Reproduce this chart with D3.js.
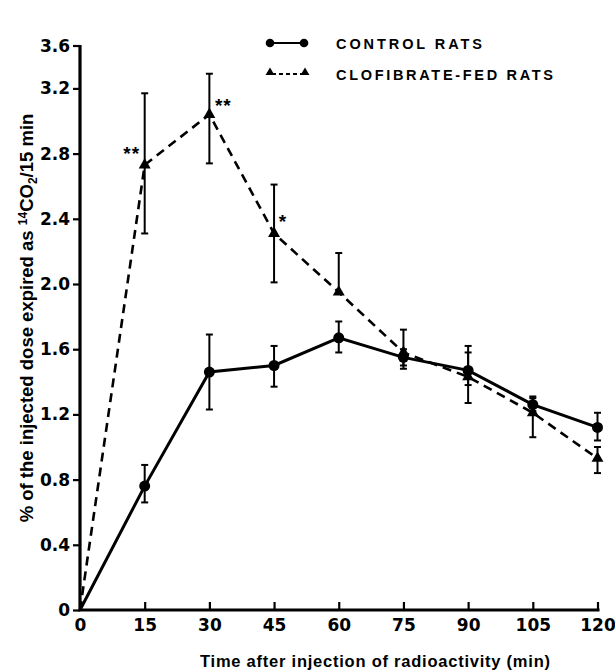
<!DOCTYPE html>
<html>
<head>
<meta charset="utf-8">
<script src="https://cdn.jsdelivr.net/npm/d3@7"></script>
<style>
  html, body { margin: 0; padding: 0; background: #fff; }
  svg { display: block; }
  text { font-family: "Liberation Sans", Arial, sans-serif; fill: #000; }
  .tk { font-family: "DejaVu Sans", sans-serif; }
</style>
</head>
<body>
<svg id="chart" width="615" height="671"></svg>
<script>
// ---- data ----
const times = [0, 15, 30, 45, 60, 75, 90, 105, 120];
const controlMean = [0, 0.76, 1.46, 1.50, 1.67, 1.55, 1.47, 1.26, 1.12];
const controlLow  = [null, 0.66, 1.23, 1.37, 1.58, 1.50, 1.38, 1.22, 1.04];
const controlHigh = [null, 0.89, 1.69, 1.62, 1.77, 1.60, 1.62, 1.31, 1.21];
const clofMean = [0, 2.73, 3.04, 2.31, 1.95, 1.58, 1.43, 1.21, 0.93];
const clofLow  = [null, 2.31, 2.74, 2.01, 1.95, 1.48, 1.27, 1.06, 0.84];
const clofHigh = [null, 3.17, 3.29, 2.61, 2.19, 1.72, 1.58, 1.30, 1.00];
const xTicks = [0, 15, 30, 45, 60, 75, 90, 105, 120];
const yTicks = [0, 0.4, 0.8, 1.2, 1.6, 2.0, 2.4, 2.8, 3.2];
const yTopLabel = "3.6";
const significance = [
  { t: 15, label: "**", dx: -13, dy: -15 },
  { t: 30, label: "**", dx: 14, dy: -12 },
  { t: 45, label: "*",  dx: 9,  dy: -15 }
];
const legendLabels = ["CONTROL RATS", "CLOFIBRATE-FED RATS"];
const xTitle = "Time after injection of radioactivity (min)";

// ---- scales ----
const svg = d3.select("#chart");
const x = d3.scaleLinear().domain([0, 120]).range([80, 597.5]);
const y = d3.scaleLinear().domain([0, 3.2]).range([610, 88.4]);
const yAxisTop = 45;

const control = times.map((t, i) => ({ t, v: controlMean[i], lo: controlLow[i], hi: controlHigh[i] }));
const clof = times.map((t, i) => ({ t, v: clofMean[i], lo: clofLow[i], hi: clofHigh[i] }));

// ---- axes ----
const xAxis = d3.axisBottom(x).tickValues(xTicks).tickSizeInner(-8).tickSizeOuter(0).tickPadding(9)
  .tickFormat(d3.format("d"));
const gx = svg.append("g").attr("transform", `translate(0,${y(0)})`).call(xAxis);
gx.select(".domain").remove();
gx.selectAll(".tick line").attr("stroke", "#000").attr("stroke-width", 2.2);
gx.selectAll(".tick text").attr("class", "tk").attr("font-size", 17).attr("font-weight", "bold");

const yAxis = d3.axisLeft(y).tickValues(yTicks).tickSizeInner(7).tickSizeOuter(0).tickPadding(3)
  .tickFormat(d => d === 0 ? "0" : d3.format(".1f")(d));
const gy = svg.append("g").attr("transform", `translate(${x(0)},0)`).call(yAxis);
gy.select(".domain").remove();
gy.selectAll(".tick line").attr("stroke", "#000").attr("stroke-width", 2.2);
gy.selectAll(".tick text").attr("class", "tk").attr("font-size", 17).attr("font-weight", "bold");
// top end tick of the y axis
gy.append("line").attr("x1", -7).attr("x2", 0).attr("y1", yAxisTop + 1).attr("y2", yAxisTop + 1)
  .attr("stroke", "#000").attr("stroke-width", 2.2);
gy.append("text").attr("class", "tk").attr("x", -10).attr("y", yAxisTop + 1).attr("dy", "0.36em")
  .attr("text-anchor", "end").attr("font-size", 17).attr("font-weight", "bold").text(yTopLabel);

// axis lines
svg.append("path")
  .attr("d", `M${x(0)},${yAxisTop}V${y(0)}H${x(120) + 2}`)
  .attr("fill", "none").attr("stroke", "#000").attr("stroke-width", 3.2);

// ---- series lines ----
const line = d3.line().x(d => x(d.t)).y(d => y(d.v));
svg.append("path").datum(clof).attr("d", line)
  .attr("fill", "none").attr("stroke", "#000").attr("stroke-width", 2.6)
  .attr("stroke-dasharray", "9,6");
svg.append("path").datum(control).attr("d", line)
  .attr("fill", "none").attr("stroke", "#000").attr("stroke-width", 3);

// ---- error bars ----
function errorBars(data) {
  const g = svg.append("g").attr("stroke", "#000").attr("stroke-width", 2);
  data.filter(d => d.lo !== null).forEach(d => {
    const cx = x(d.t);
    g.append("line").attr("x1", cx).attr("x2", cx).attr("y1", y(d.lo)).attr("y2", y(d.hi));
    g.append("line").attr("x1", cx - 3.5).attr("x2", cx + 3.5).attr("y1", y(d.hi)).attr("y2", y(d.hi));
    if (d.lo < d.v) {
      g.append("line").attr("x1", cx - 3.5).attr("x2", cx + 3.5).attr("y1", y(d.lo)).attr("y2", y(d.lo));
    }
  });
}
errorBars(control);
errorBars(clof);

// ---- markers ----
const tri = d3.symbol().type(d3.symbolTriangle).size(62);
svg.append("g").selectAll("path").data(clof.filter(d => d.t > 0)).join("path")
  .attr("d", tri).attr("transform", d => `translate(${x(d.t)},${y(d.v)})`).attr("fill", "#000");
svg.append("g").selectAll("circle").data(control.filter(d => d.t > 0)).join("circle")
  .attr("cx", d => x(d.t)).attr("cy", d => y(d.v)).attr("r", 5.5).attr("fill", "#000");

// ---- significance marks ----
svg.append("g").selectAll("text").data(significance).join("text")
  .attr("x", d => x(d.t) + d.dx)
  .attr("y", d => y(clofMean[times.indexOf(d.t)]) + d.dy + 10)
  .attr("text-anchor", "middle").attr("font-size", 19).attr("font-weight", "bold")
  .attr("letter-spacing", 1)
  .text(d => d.label);

// ---- legend ----
const lg = svg.append("g");
lg.append("line").attr("x1", 270).attr("x2", 304).attr("y1", 43).attr("y2", 43)
  .attr("stroke", "#000").attr("stroke-width", 2.2);
[270, 304].forEach(cx => lg.append("circle").attr("cx", cx).attr("cy", 43).attr("r", 4.3).attr("fill", "#000"));
lg.append("line").attr("x1", 272).attr("x2", 303).attr("y1", 74).attr("y2", 74)
  .attr("stroke", "#000").attr("stroke-width", 2).attr("stroke-dasharray", "4,3");
const triSmall = d3.symbol().type(d3.symbolTriangle).size(34);
[270, 305].forEach(cx => lg.append("path").attr("d", triSmall)
  .attr("transform", `translate(${cx},72.5)`).attr("fill", "#000"));
lg.append("text").attr("x", 336).attr("y", 49).attr("font-size", 14.5).attr("font-weight", "bold")
  .attr("textLength", 146).attr("lengthAdjust", "spacing").text(legendLabels[0]);
lg.append("text").attr("x", 336).attr("y", 80).attr("font-size", 14.5).attr("font-weight", "bold")
  .attr("textLength", 217).attr("lengthAdjust", "spacing").text(legendLabels[1]);

// ---- axis titles ----
svg.append("text").attr("x", 375).attr("y", 667).attr("text-anchor", "middle")
  .attr("font-size", 16.5).attr("font-weight", "bold")
  .attr("textLength", 350).attr("lengthAdjust", "spacing").text(xTitle);

const yt = svg.append("text").attr("transform", "translate(33,318) rotate(-90)")
  .attr("text-anchor", "middle").attr("font-size", 18.5).attr("font-weight", "bold");
yt.append("tspan").text("% of the injected dose expired as ");
yt.append("tspan").attr("font-size", 12).attr("baseline-shift", "6").text("14");
yt.append("tspan").text("CO");
yt.append("tspan").attr("font-size", 12).attr("baseline-shift", "-4").text("2");
yt.append("tspan").text("/15 min");
</script>
</body>
</html>
